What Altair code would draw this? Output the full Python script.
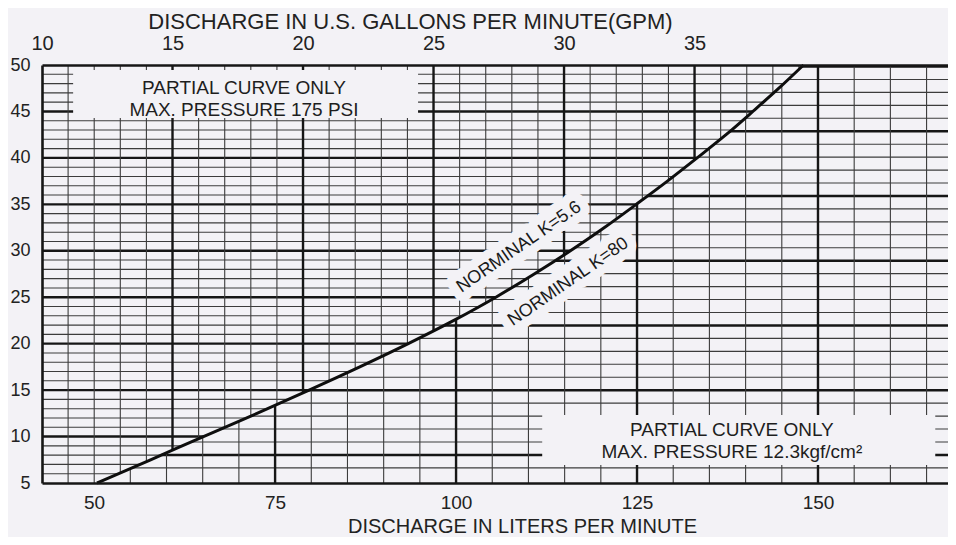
import altair as alt
import numpy as np
import pandas as pd

# ---- values ----
# curve: discharge (L/min) against pressure (psi)
curve_lpm = [50.4, 57.8, 65.1, 72.5, 79.7, 86.7, 93.4, 99.7, 105.5, 110.8,
             115.8, 120.5, 124.9, 129.2, 133.3, 137.3, 141.0, 144.6, 148.0]
curve_psi = [5, 7.5, 10, 12.5, 15, 17.5, 20, 22.5, 25, 27.5,
             30, 32.5, 35, 37.5, 40, 42.5, 45, 47.5, 50]

psi_ticks = [5, 10, 15, 20, 25, 30, 35, 40, 45, 50]
lpm_ticks = [50, 75, 100, 125, 150]
gpm_ticks = [10, 15, 20, 25, 30, 35]

# grid lines of the chart paper
gpm_grid = list(range(11, 45))                 # every 1 GPM (upper-left part)
psi_grid = list(range(6, 50))                  # every 1 psi (upper-left part)
lpm_grid = list(range(55, 170, 5))             # every 5 L/min (lower-right part)
kgf_grid = [round(0.4 + 0.1 * i, 1) for i in range(32)]  # every 0.1 kgf/cm2

box_lines_1 = ["PARTIAL CURVE ONLY", "MAX. PRESSURE 175 PSI"]
box_lines_2 = ["PARTIAL CURVE ONLY", "MAX. PRESSURE 12.3kgf/cm\u00b2"]
k_labels = ["NORMINAL K=5.6", "NORMINAL K=80"]

# ---- scale relations of the printed chart ----
LPM_MIN, LPM_MAX = 42.8, 167.96
GPM_MIN, GPM_MAX = 10.0, 44.71
PSI_MIN, PSI_MAX = 5, 50


def gpm_to_lpm(g):
    return 42.82 + (g - 10) * 3.605


def lpm_to_gpm(l):
    return 10 + (l - 42.82) / 3.605


def kgf_to_psi(k):
    return 8.02 + (k - 0.5) * 13.94


def psi_on_curve(l):
    return float(np.interp(l, curve_lpm, curve_psi))


def lpm_on_curve(p):
    return float(np.interp(p, curve_psi, curve_lpm))


BG = "#f3f2f6"
INK = "#161616"
MINOR = "#3c3c3c"
FONT = "Liberation Sans"
BOLD_W = 2.4
MINOR_W = 1.1

# upper-left grid (GPM x psi), above the curve
gv = []
for g in gpm_grid:
    l = gpm_to_lpm(g)
    if l >= curve_lpm[-1]:
        continue
    gv.append({"g": g, "y1": psi_on_curve(l), "y2": PSI_MAX, "bold": g % 5 == 0})
gv = pd.DataFrame(gv)

ph = []
for p in psi_grid:
    ph.append({"x1": GPM_MIN, "x2": lpm_to_gpm(lpm_on_curve(p)), "p": p, "bold": p % 5 == 0})
ph = pd.DataFrame(ph)

# lower-right grid (L/min x kgf/cm2), below the curve
lv = []
for l in lpm_grid:
    if l <= curve_lpm[0]:
        continue
    lv.append({"l": l, "y1": PSI_MIN, "y2": psi_on_curve(l), "bold": l % 25 == 0})
lv = pd.DataFrame(lv)

kh = []
for k in kgf_grid:
    p = kgf_to_psi(k)
    if p <= PSI_MIN or p >= PSI_MAX:
        continue
    kh.append({"x1": lpm_on_curve(p), "x2": LPM_MAX, "p": p, "bold": round(k * 10) % 5 == 0})
kh = pd.DataFrame(kh)

curve_df = pd.DataFrame({"lpm": curve_lpm, "psi": curve_psi})

boxes = pd.DataFrame({
    "x1": [47.1, 111.9], "x2": [94.75, 166.2],
    "y1": [44.3, 6.94], "y2": [49.46, 12.32],
})
box_text = pd.DataFrame({
    "lpm": [70.7, 70.7, 138.1, 138.1],
    "psi": [47.52, 45.16, 10.71, 8.34],
    "t": box_lines_1 + box_lines_2,
})
k_text = pd.DataFrame({"lpm": [108.7, 115.5], "psi": [30.4, 26.65], "t": k_labels})

XS_G = alt.Scale(domain=[GPM_MIN, GPM_MAX], nice=False, zero=False)
XS_L = alt.Scale(domain=[LPM_MIN, LPM_MAX], nice=False, zero=False)
YS = alt.Scale(domain=[PSI_MIN, PSI_MAX], nice=False, zero=False)

top_axis = alt.Axis(
    orient="top", values=gpm_ticks, title="DISCHARGE IN U.S. GALLONS PER MINUTE(GPM)",
    titleFont=FONT, titleFontSize=22, titleFontWeight="normal", titleColor="#222",
    titleX=368, titleY=-37, titleAlign="center", titleBaseline="alphabetic", titleAnchor="start",
    labelFont=FONT, labelFontSize=20, labelColor="#222", labelPadding=12,
    labelFlush=False, labelOverlap=False, ticks=False, grid=False,
    domain=True, domainColor=INK, domainWidth=2.6, zindex=1,
)
bottom_axis = alt.Axis(
    orient="bottom", values=lpm_ticks, title="DISCHARGE IN LITERS PER MINUTE",
    titleFont=FONT, titleFontSize=20, titleFontWeight="normal", titleColor="#222",
    titleX=480, titleY=49, titleAlign="center", titleBaseline="alphabetic", titleAnchor="start",
    labelFont=FONT, labelFontSize=19, labelColor="#222", labelPadding=10,
    labelFlush=False, labelOverlap=False, ticks=False, grid=False,
    domain=True, domainColor=INK, domainWidth=2.6, zindex=1,
)
left_axis = alt.Axis(
    orient="left", values=psi_ticks, title=None,
    labelFont=FONT, labelFontSize=18, labelColor="#222", labelPadding=12,
    labelFlush=False, labelOverlap=False, ticks=False, grid=False,
    domain=True, domainColor=INK, domainWidth=2.6, zindex=1,
)


def xg(field):
    return alt.X(field, scale=XS_G, axis=top_axis)


def xl(field):
    return alt.X(field, scale=XS_L, axis=bottom_axis)


def yy(field):
    return alt.Y(field, scale=YS, axis=left_axis)


def sub(df, bold):
    return df[df["bold"] == bold]


# ---- GPM group ----
g_layers = []
for bold in (False, True):
    w = BOLD_W if bold else MINOR_W
    c = INK if bold else MINOR
    g_layers.append(
        alt.Chart(sub(ph, bold)).mark_rule(strokeWidth=w, color=c).encode(
            x=xg("x1:Q"), x2="x2:Q", y=yy("p:Q"),
        )
    )
for bold in (False, True):
    w = BOLD_W if bold else MINOR_W
    c = INK if bold else MINOR
    g_layers.append(
        alt.Chart(sub(gv, bold)).mark_rule(strokeWidth=w, color=c).encode(
            x=xg("g:Q"), y=yy("y1:Q"), y2="y2:Q",
        )
    )
gpm_group = alt.layer(*g_layers)

# ---- L/min group ----
l_layers = []
for bold in (False, True):
    w = BOLD_W if bold else MINOR_W
    c = INK if bold else MINOR
    l_layers.append(
        alt.Chart(sub(kh, bold)).mark_rule(strokeWidth=w, color=c).encode(
            x=xl("x1:Q"), x2="x2:Q", y=yy("p:Q"),
        )
    )
for bold in (False, True):
    w = BOLD_W if bold else MINOR_W
    c = INK if bold else MINOR
    l_layers.append(
        alt.Chart(sub(lv, bold)).mark_rule(strokeWidth=w, color=c).encode(
            x=xl("l:Q"), y=yy("y1:Q"), y2="y2:Q",
        )
    )

l_layers.append(
    alt.Chart(boxes).mark_rect(color=BG).encode(
        x=xl("x1:Q"), x2="x2:Q", y=yy("y1:Q"), y2="y2:Q",
    )
)
l_layers.append(
    alt.Chart(k_text).mark_text(
        font=FONT, fontSize=18, angle=325.4, align="center", baseline="middle",
        color=BG, stroke=BG, strokeWidth=18, strokeJoin="round",
    ).encode(x=xl("lpm:Q"), y=yy("psi:Q"), text="t:N")
)
l_layers.append(
    alt.Chart(curve_df).mark_line(color="#0e0e0e", strokeWidth=3.0, interpolate="monotone").encode(
        x=xl("lpm:Q"), y=yy("psi:Q"),
    )
)
l_layers.append(
    alt.Chart(k_text).mark_text(
        font=FONT, fontSize=18, angle=325.4, align="center", baseline="middle", color="#1a1a1a",
    ).encode(x=xl("lpm:Q"), y=yy("psi:Q"), text="t:N")
)
l_layers.append(
    alt.Chart(box_text).mark_text(
        font=FONT, fontSize=19, align="center", baseline="middle", color="#1e1e1e",
    ).encode(x=xl("lpm:Q"), y=yy("psi:Q"), text="t:N")
)
lpm_group = alt.layer(*l_layers)

chart = (
    alt.layer(gpm_group, lpm_group)
    .resolve_scale(x="independent")
    .properties(
        width=906, height=418,
        padding={"left": 34, "top": 57, "right": 0, "bottom": 54},
        autosize=alt.AutoSizeParams(type="none"),
        background=BG,
    )
    .configure_view(stroke=None)
)

chart.save("out.html", embed_options={"renderer": "svg", "actions": False})
